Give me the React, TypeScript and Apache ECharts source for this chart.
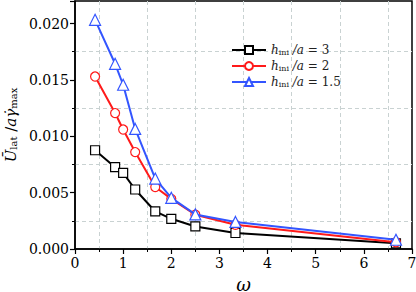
import React, { useEffect, useRef } from "react";
import * as echarts from "echarts";

const omega = [0.417, 0.833, 1.0, 1.25, 1.667, 2.0, 2.5, 3.333, 6.667];
const seriesH3 = [0.00876, 0.00726, 0.00675, 0.00528, 0.00333, 0.00268, 0.002, 0.00142, 0.0005];
const seriesH2 = [0.0153, 0.01206, 0.0106, 0.0086, 0.0055, 0.00445, 0.00304, 0.00215, 0.0006];
const seriesH15 = [0.02033, 0.01643, 0.01457, 0.01065, 0.00625, 0.00454, 0.00307, 0.0024, 0.00082];
const seriesNames = ["h3", "h2", "h1.5"];
const legendValues = ["3", "2", "1.5"];
const colors = ["#000000", "#ff1a1a", "#3355ff"];
const symbols = ["rect", "circle", "triangle"];

const FONT = "DejaVu Serif";

export default function App() {
  const ref = useRef<HTMLDivElement>(null);
  useEffect(() => {
    if (!ref.current) return;
    const chart = echarts.init(ref.current, undefined, { renderer: "svg" });
    const allData = [seriesH3, seriesH2, seriesH15];
    const series = allData.map((vals, i) => ({
      name: seriesNames[i],
      type: "line",
      data: omega.map((x, j) => [x, vals[j]]),
      symbol: symbols[i],
      symbolSize: i === 2 ? 11 : 9,
      showSymbol: true,
      lineStyle: { color: colors[i], width: 2 },
      itemStyle: { color: "#ffffff", borderColor: colors[i], borderWidth: 1.2 },
      z: 2 + i,
    }));
    const legendFmt = (name: string) => {
      const idx = seriesNames.indexOf(name);
      return "{i|h}{s|ini}{i| /a}{n| = " + legendValues[idx] + "}";
    };
    chart.setOption({
      animation: false,
      textStyle: { fontFamily: FONT },
      grid: {
        left: 75,
        right: 4,
        top: 1,
        bottom: 43,
        show: true,
        borderColor: "#000",
        borderWidth: 1.5,
        outerBoundsMode: "none",
        containLabel: false,
      },
      legend: {
        data: seriesNames,
        orient: "vertical",
        left: 226,
        top: 39,
        itemWidth: 34,
        itemHeight: 10,
        itemGap: 4,
        formatter: legendFmt,
        textStyle: {
          fontFamily: FONT,
          fontSize: 12,
          color: "#222",
          rich: {
            i: { fontFamily: FONT, fontStyle: "italic", fontSize: 12, color: "#222" },
            s: { fontFamily: FONT, fontSize: 8, color: "#222", verticalAlign: "bottom" },
            n: { fontFamily: FONT, fontSize: 12, color: "#222" },
          },
        },
      },
      xAxis: {
        type: "value",
        min: 0,
        max: 7,
        interval: 1,
        name: "ω",
        nameLocation: "middle",
        nameGap: 15,
        nameTextStyle: { fontFamily: FONT, fontStyle: "italic", fontSize: 18, lineHeight: 20, color: "#000" },
        axisLine: { show: true, onZero: false, lineStyle: { color: "#000", width: 1.5 } },
        axisTick: { show: true, length: 5, lineStyle: { color: "#000", width: 1.2 } },
        minorTick: { show: true, splitNumber: 2, length: 3, lineStyle: { color: "#000", width: 1 } },
        splitLine: { show: false },
        minorSplitLine: { show: true, lineStyle: { color: "#c9d2d2", type: [4, 3], width: 1 } },
        axisLabel: { fontFamily: FONT, fontSize: 14, color: "#000", margin: 7 },
      },
      yAxis: {
        type: "value",
        min: 0,
        max: 0.022,
        interval: 0.005,
        name: "{b|Ū}{s|lat}{n| /}{i|a}{i|γ̇}{s|max}",
        nameLocation: "middle",
        nameGap: 55,
        nameRotate: 90,
        nameTextStyle: {
          fontFamily: FONT,
          fontSize: 15,
          color: "#000",
          rich: {
            b: { fontFamily: FONT, fontStyle: "italic", fontSize: 15, color: "#000" },
            i: { fontFamily: FONT, fontStyle: "italic", fontSize: 15, color: "#000" },
            n: { fontFamily: FONT, fontSize: 15, color: "#000" },
            s: { fontFamily: FONT, fontSize: 10, color: "#000", verticalAlign: "bottom" },
          },
        },
        axisLine: { show: true, lineStyle: { color: "#000", width: 1.5 } },
        axisTick: { show: true, length: 5, lineStyle: { color: "#000", width: 1.2 } },
        minorTick: { show: true, splitNumber: 2, length: 3, lineStyle: { color: "#000", width: 1 } },
        splitLine: { show: false },
        minorSplitLine: { show: true, lineStyle: { color: "#c9d2d2", type: [4, 3], width: 1 } },
        axisLabel: {
          fontFamily: FONT,
          fontSize: 14,
          color: "#000",
          margin: 6,
          showMaxLabel: false,
          formatter: (v: number) => v.toFixed(3),
        },
      },
      series,
    });
    return () => chart.dispose();
  }, []);
  return (
    <div
      ref={ref}
      style={{ position: "fixed", left: 0, top: 0, width: 416, height: 292, background: "#fff" }}
    />
  );
}
